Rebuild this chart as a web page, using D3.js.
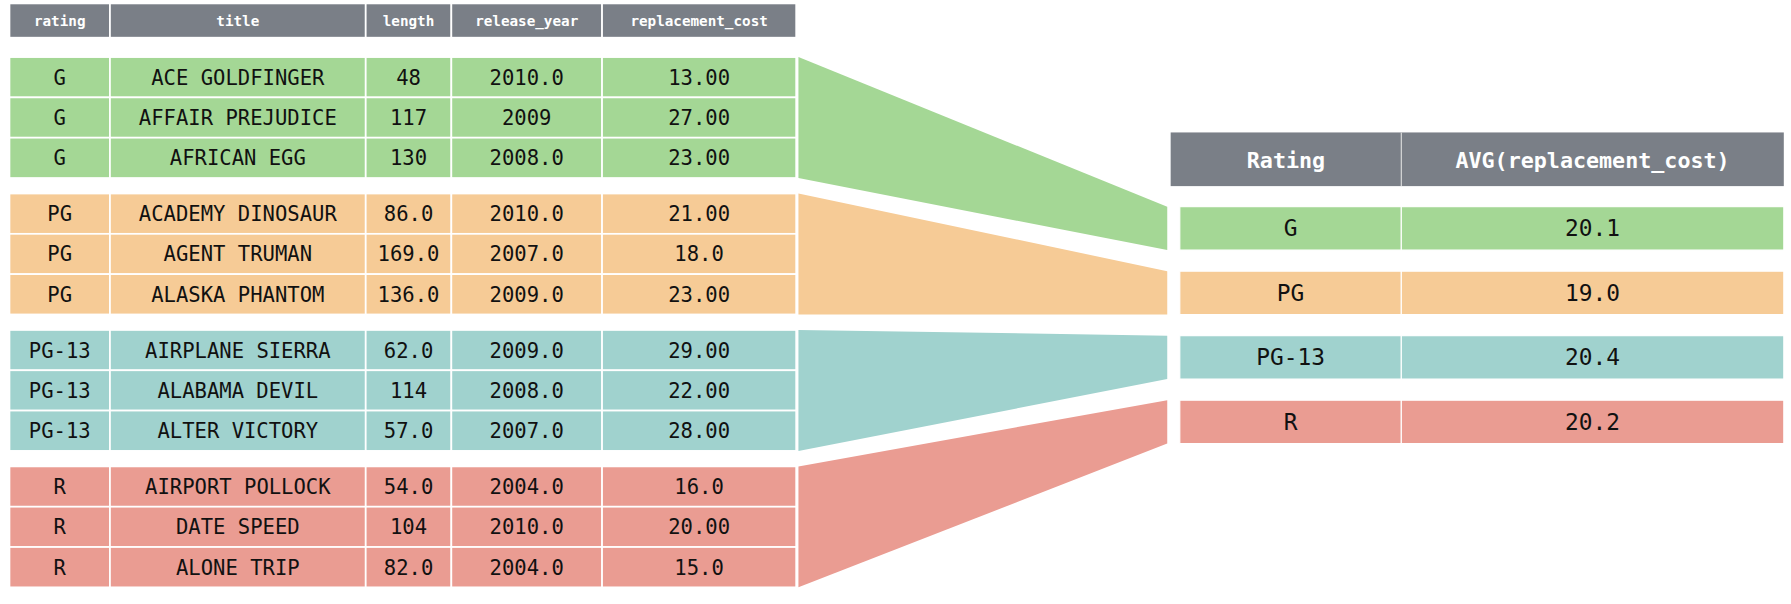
<!DOCTYPE html>
<html><head><meta charset="utf-8">
<script src="https://cdn.jsdelivr.net/npm/d3@7"></script>
<style>body{margin:0;background:#fff}</style>
</head><body>
<script>
// data
var columns = ["rating", "title", "length", "release_year", "replacement_cost"];
var ratings = ["G", "PG", "PG-13", "R"];
var titles = ["ACE GOLDFINGER", "AFFAIR PREJUDICE", "AFRICAN EGG",
  "ACADEMY DINOSAUR", "AGENT TRUMAN", "ALASKA PHANTOM",
  "AIRPLANE SIERRA", "ALABAMA DEVIL", "ALTER VICTORY",
  "AIRPORT POLLOCK", "DATE SPEED", "ALONE TRIP"];
var lengths = ["48", "117", "130", "86.0", "169.0", "136.0", "62.0", "114", "57.0", "54.0", "104", "82.0"];
var years = ["2010.0", "2009", "2008.0", "2010.0", "2007.0", "2009.0", "2009.0", "2008.0", "2007.0", "2004.0", "2010.0", "2004.0"];
var costs = ["13.00", "27.00", "23.00", "21.00", "18.0", "23.00", "29.00", "22.00", "28.00", "16.0", "20.00", "15.0"];
var avgCols = ["Rating", "AVG(replacement_cost)"];
var avgValues = ["20.1", "19.0", "20.4", "20.2"];

var colors = ["#a4d795", "#f6cb96", "#a0d2ce", "#ea9c92"];
var headFill = "#7a7f87";
var mono = "'DejaVu Sans Mono', monospace";

var svg = d3.select("body").append("svg")
  .attr("width", 1791).attr("height", 604)
  .attr("viewBox", "0 0 1568 529");

// left table layout
var colEdges = [8, 96, 320, 395, 527, 697];
var rowH = 35.3, groupGap = 14;
var rowY = d3.scaleLinear().domain([0, 1]).range([50, 50 + rowH]);
function yOf(i) { return rowY(i) + Math.floor(i / 3) * (groupGap - 0.4); }

// header
columns.forEach(function(c, j) {
  svg.append("rect").attr("x", colEdges[j]).attr("y", 3)
    .attr("width", colEdges[j + 1] - colEdges[j]).attr("height", 30)
    .attr("fill", headFill).attr("stroke", "#fff").attr("stroke-width", 1.5);
  svg.append("text").attr("x", (colEdges[j] + colEdges[j + 1]) / 2).attr("y", 23)
    .attr("text-anchor", "middle").attr("fill", "#fff")
    .attr("font-family", mono).attr("font-weight", "bold").attr("font-size", 12.5)
    .text(c);
});

// rows
titles.forEach(function(t, i) {
  var g = Math.floor(i / 3);
  var vals = [ratings[g], t, lengths[i], years[i], costs[i]];
  vals.forEach(function(v, j) {
    svg.append("rect").attr("x", colEdges[j]).attr("y", yOf(i))
      .attr("width", colEdges[j + 1] - colEdges[j]).attr("height", rowH)
      .attr("fill", colors[g]).attr("stroke", "#fff").attr("stroke-width", 1.5);
    svg.append("text").attr("x", (colEdges[j] + colEdges[j + 1]) / 2).attr("y", yOf(i) + rowH / 2 + 6.5)
      .attr("text-anchor", "middle").attr("fill", "#111")
      .attr("font-family", mono).attr("font-size", 18)
      .text(v);
  });
});

// right table
var rEdges = [1033, 1227, 1562];
var rY = d3.scaleLinear().domain([0, 1]).range([181, 237.5]);
var rH = 38;
svg.append("rect").attr("x", 1025).attr("y", 116).attr("width", 1562 - 1025).attr("height", 47).attr("fill", headFill);
svg.append("line").attr("x1", 1227).attr("x2", 1227).attr("y1", 116).attr("y2", 163).attr("stroke", "#ddd").attr("stroke-width", 1);
avgCols.forEach(function(c, j) {
  var x0 = j === 0 ? 1025 : 1227;
  svg.append("text").attr("x", (x0 + rEdges[j + 1]) / 2).attr("y", 147)
    .attr("text-anchor", "middle").attr("fill", "#fff")
    .attr("font-family", mono).attr("font-weight", "bold").attr("font-size", 19)
    .text(c);
});
ratings.forEach(function(r, k) {
  [r, avgValues[k]].forEach(function(v, j) {
    svg.append("rect").attr("x", rEdges[j]).attr("y", rY(k))
      .attr("width", rEdges[j + 1] - rEdges[j]).attr("height", rH)
      .attr("fill", colors[k]).attr("stroke", "#fff").attr("stroke-width", 1);
    svg.append("text").attr("x", (rEdges[j] + rEdges[j + 1]) / 2).attr("y", rY(k) + rH / 2 + 7)
      .attr("text-anchor", "middle").attr("fill", "#111")
      .attr("font-family", mono).attr("font-size", 20)
      .text(v);
  });
});

// funnels
ratings.forEach(function(r, k) {
  var top = yOf(k * 3), bot = yOf(k * 3 + 2) + rowH;
  var pts = [[699, top], [1022, rY(k)], [1022, rY(k) + rH], [699, bot]];
  svg.append("path").attr("d", d3.line()(pts) + "Z").attr("fill", colors[k]);
});
</script>
</body></html>
